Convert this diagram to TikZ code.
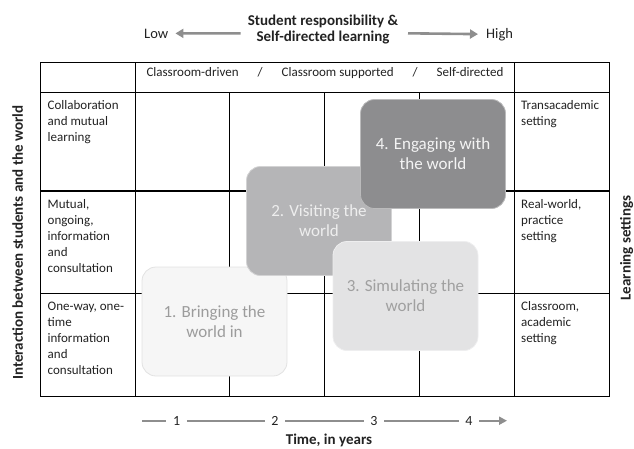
\documentclass[tikz,border=0pt]{standalone}
\usepackage{fontspec}
\setmainfont{Carlito}
\usetikzlibrary{arrows.meta}
\definecolor{textdark}{HTML}{222222}
\definecolor{axisgray}{HTML}{8E8E8E}
\definecolor{boxafill}{HTML}{F6F6F6}
\definecolor{boxaedge}{HTML}{E2E2E2}
\definecolor{boxatext}{HTML}{9C9C9C}
\definecolor{boxbfill}{HTML}{B5B5B7}
\definecolor{boxbtext}{HTML}{EEEEEE}
\definecolor{boxcfill}{HTML}{E3E3E4}
\definecolor{boxctext}{HTML}{A0A0A0}
\definecolor{boxdfill}{HTML}{8D8D8F}
\definecolor{boxdtext}{HTML}{F4F4F4}
\begin{document}
\begin{tikzpicture}[x=1pt,y=-1pt,
  every node/.style={text=textdark},
  grid/.style={line width=1.3pt,draw=black},
  celltext/.style={anchor=north west,inner sep=0pt,align=left,font=\fontsize{13}{16}\selectfont},
  axislabel/.style={inner sep=0pt,font=\fontsize{15}{16}\selectfont\bfseries},
  sidetext/.style={inner sep=0pt,font=\fontsize{14.5}{16}\selectfont},
  toparrow/.style={line width=2.6pt,draw=axisgray,-{Triangle[length=8pt,width=9pt]}},
  timeline/.style={line width=2.4pt,draw=axisgray},
  tick/.style={inner xsep=6.5pt,inner ysep=0pt,font=\fontsize{14}{16}\selectfont},
  phase/.style={rounded corners=14pt,minimum width=145pt,minimum height=109pt,
    align=center,inner sep=0pt,line width=0.8pt,font=\fontsize{17}{20}\selectfont}
]
\useasboundingbox (0,0) rectangle (634,448);

% ---- top axis ----
\node[axislabel,anchor=north,align=center] (title) at (323,14)
  {\rule{0pt}{11pt}Student responsibility \&\\Self-directed learning};
\node[sidetext,anchor=base west] (low) at (144,38) {Low};
\node[sidetext,anchor=base west] (high) at (486,38) {High};
\coordinate (la) at (240.7,33.3);
\coordinate (ra) at (408,33.3);
\draw[toparrow,shorten >=7pt] (la) -- (low.east);
\draw[toparrow,shorten >=8pt] (ra) -- (high.west);

% ---- table ----
\draw[grid] (40.5,62.3) rectangle (609.3,396.3);
\foreach \r in {92.3,191,293.3} \draw[grid] (40.5,\r) -- (609.3,\r);
\foreach \c in {135.7,514.3} \draw[grid] (\c,62.3) -- (\c,396.3);
\foreach \c in {229.5,324.3,419.2} \draw[grid] (\c,92.3) -- (\c,396.3);

\node[inner sep=0pt,anchor=base,font=\fontsize{13}{16}\selectfont] (head) at (325,76.5)
  {Classroom-driven\hspace{19pt}/\hspace{19pt}Classroom supported\hspace{19pt}/\hspace{19pt}Self-directed};

\node[celltext] (l1) at (47.5,99.3) {\rule{0pt}{10pt}Collaboration\\and mutual\\learning};
\node[celltext] (l2) at (47.5,198) {\rule{0pt}{10pt}Mutual,\\ongoing,\\information\\and\\consultation};
\node[celltext] (l3) at (47.5,300.3) {\rule{0pt}{10pt}One-way, one-\\time\\information\\and\\consultation};
\node[celltext] (r1) at (521,99.3) {\rule{0pt}{10pt}Transacademic\\setting};
\node[celltext] (r2) at (521,198) {\rule{0pt}{10pt}Real-world,\\practice\\setting};
\node[celltext] (r3) at (521,300.3) {\rule{0pt}{10pt}Classroom,\\academic\\setting};

% ---- phases ----
\node[phase,fill=boxafill,draw=boxaedge,text=boxatext] (p1) at (214.5,321.5) {1. Bringing the\\world in};
\node[phase,fill=boxbfill,draw=boxbfill!60!white,text=boxbtext] (p2) at (319,221) {2. Visiting the\\world};
\node[phase,fill=boxcfill,draw=boxcfill!60!white,text=boxctext] (p3) at (405.5,296) {3. Simulating the\\world};
\node[phase,fill=boxdfill,draw=boxdfill!60!white,text=boxdtext] (p4) at (433,154) {4. Engaging with\\the world};

% ---- side labels ----
\node[axislabel,anchor=base,rotate=90] (inter) at (23,242.5) {Interaction between students and the world};
\node[axislabel,anchor=base,rotate=90] (settings) at (630.5,248) {Learning settings};

% ---- time axis ----
\node[tick] (t1) at (176.7,420.7) {1};
\node[tick] (t2) at (275,420.7) {2};
\node[tick] (t3) at (374,420.7) {3};
\node[tick] (t4) at (469,420.7) {4};
\coordinate (ts) at (142.3,420.7);
\coordinate (te) at (507,420.7);
\draw[timeline] (ts) -- (t1.west);
\draw[timeline] (t1.east) -- (t2.west);
\draw[timeline] (t2.east) -- (t3.west);
\draw[timeline] (t3.east) -- (t4.west);
\draw[timeline,-{Triangle[length=8pt,width=8pt]}] (t4.east) -- (te);
\node[axislabel,anchor=base] (time) at (329,444) {Time, in years};
\end{tikzpicture}
\end{document}
